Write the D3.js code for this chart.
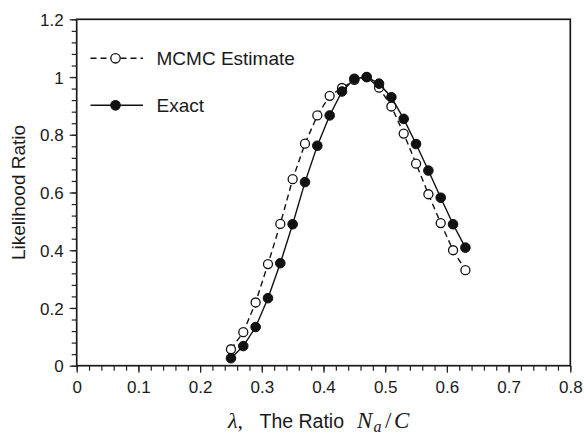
<!DOCTYPE html>
<html><head><meta charset="utf-8">
<script src="https://cdn.jsdelivr.net/npm/d3@7"></script>
<style>body{margin:0;background:#fff}svg{display:block}text{font-family:"Liberation Sans",Arial,sans-serif;fill:#1a1a1a}</style>
</head><body><svg id="c" width="584" height="435"></svg>
<script>
const lambdas = [0.25,0.27,0.29,0.31,0.33,0.35,0.37,0.39,0.41,0.43,0.45,0.47,0.49,0.51,0.53,0.55,0.57,0.59,0.61,0.63];
const mcmc  = [0.057,0.116,0.219,0.352,0.491,0.646,0.769,0.867,0.935,0.962,0.99,1.0,0.963,0.898,0.804,0.70,0.594,0.494,0.40,0.331];
const exact = [0.026,0.068,0.134,0.234,0.355,0.490,0.636,0.762,0.867,0.950,0.994,1.0,0.977,0.930,0.855,0.768,0.676,0.582,0.49,0.409];
const xTicks = [0,0.1,0.2,0.3,0.4,0.5,0.6,0.7,0.8];
const yTicks = [0,0.2,0.4,0.6,0.8,1,1.2];
const seriesNames = ["MCMC Estimate","Exact"];

const svg = d3.select("#c");
const L=76.7, R=570.3, T=19.3, B=365.7;
const x = d3.scaleLinear().domain([0,0.8]).range([L,R]);
const y = d3.scaleLinear().domain([0,1.2]).range([B,T]);

// frame
svg.append("rect").attr("x",L).attr("y",T).attr("width",R-L).attr("height",B-T)
  .attr("fill","none").attr("stroke","#1a1a1a").attr("stroke-width",1.7);

// minor ticks
const xMinor = d3.range(0,0.8001,0.02);
const yMinor = d3.range(0,1.2001,0.04);
const gx = svg.append("g").attr("transform",`translate(0,${B})`)
  .call(d3.axisBottom(x).tickValues(xMinor).tickSize(5).tickFormat(""));
const gy = svg.append("g").attr("transform",`translate(${L},0)`)
  .call(d3.axisLeft(y).tickValues(yMinor).tickSize(5).tickFormat(""));
[gx,gy].forEach(g=>{g.select(".domain").remove();g.selectAll("line").attr("stroke","#222").attr("stroke-width",1.2);});

const gxM = svg.append("g").attr("transform",`translate(0,${B})`)
  .call(d3.axisBottom(x).tickValues(xTicks).tickSize(7).tickPadding(8).tickFormat(d=>d3.format("~g")(d)));
const gyM = svg.append("g").attr("transform",`translate(${L},0)`)
  .call(d3.axisLeft(y).tickValues(yTicks).tickSize(7).tickPadding(6).tickFormat(d=>d3.format("~g")(d)));
[gxM,gyM].forEach(g=>{g.select(".domain").remove();g.selectAll("line").attr("stroke","#222").attr("stroke-width",1.2);
  g.selectAll("text").attr("font-size",17).attr("fill","#1a1a1a").attr("font-family","Liberation Sans, Arial, sans-serif");});
gyM.selectAll("text").attr("dy","0.36em");

// series
const line = d3.line().x((d,i)=>x(lambdas[i])).y(d=>y(d));
svg.append("path").datum(mcmc).attr("d",line).attr("fill","none").attr("stroke","#111")
  .attr("stroke-width",1.4).attr("stroke-dasharray","6,4");
svg.append("g").selectAll("circle").data(mcmc).join("circle")
  .attr("cx",(d,i)=>x(lambdas[i])).attr("cy",d=>y(d)).attr("r",4.5)
  .attr("fill","#fff").attr("stroke","#111").attr("stroke-width",1.3);
svg.append("path").datum(exact).attr("d",line).attr("fill","none").attr("stroke","#111")
  .attr("stroke-width",1.4);
svg.append("g").selectAll("circle").data(exact).join("circle")
  .attr("cx",(d,i)=>x(lambdas[i])).attr("cy",d=>y(d)).attr("r",4.8)
  .attr("fill","#111").attr("stroke","#111").attr("stroke-width",1);

// legend
const leg = [{name:seriesNames[0],dash:"6,4",fill:"#fff",yy:58.3},{name:seriesNames[1],dash:null,fill:"#111",yy:105.3}];
leg.forEach(l=>{
  svg.append("line").attr("x1",90.5).attr("x2",143).attr("y1",l.yy).attr("y2",l.yy)
    .attr("stroke","#111").attr("stroke-width",1.4).attr("stroke-dasharray",l.dash);
  svg.append("circle").attr("cx",115.5).attr("cy",l.yy).attr("r",4.7).attr("fill",l.fill)
    .attr("stroke","#111").attr("stroke-width",1.3);
  svg.append("text").attr("x",156.5).attr("y",l.yy+6.5).attr("font-size",19).text(l.name);
});

// axis titles
svg.append("text").attr("transform",`translate(25,${(T+B)/2}) rotate(-90)`)
  .attr("text-anchor","middle").attr("font-size",19).text("Likelihood Ratio");
const xt = svg.append("text").attr("y",428).attr("font-size",19.5);
const serif = "Liberation Serif, serif";
xt.append("tspan").attr("x",228).attr("font-family",serif).attr("font-style","italic").attr("font-size",22).text("λ");
xt.append("tspan").attr("font-family",serif).attr("font-size",22).text(",");
xt.append("tspan").attr("x",259.5).text("The Ratio");
xt.append("tspan").attr("x",357).attr("font-family",serif).attr("font-style","italic").attr("font-size",23).text("N");
xt.append("tspan").attr("x",373.5).attr("dy",4).attr("font-family",serif).attr("font-style","italic").attr("font-size",16).text("a");
xt.append("tspan").attr("x",385).attr("dy",-4).attr("font-family",serif).attr("font-size",23).text("/");
xt.append("tspan").attr("x",394).attr("font-family",serif).attr("font-style","italic").attr("font-size",23).text("C");
</script></body></html>
